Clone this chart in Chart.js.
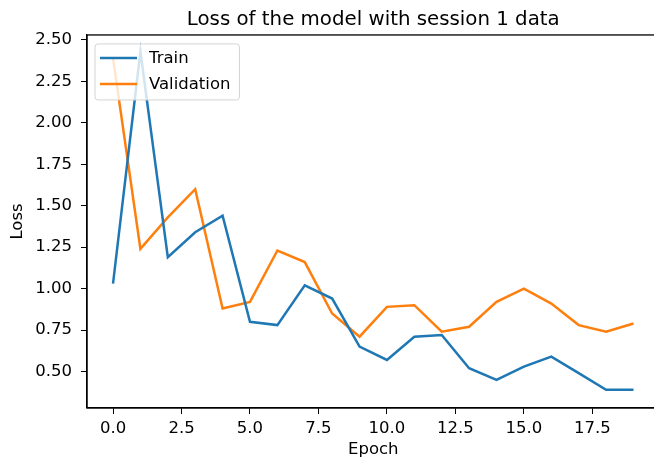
<!DOCTYPE html>
<html>
<head>
<meta charset="utf-8">
<script src="https://cdn.jsdelivr.net/npm/chart.js@4"></script>
<style>
  html, body { margin: 0; padding: 0; background: #fff; overflow: hidden; }
  canvas { display: block; }
</style>
</head>
<body>
<canvas id="chart" width="670" height="464"></canvas>
<script>
// данные
const epochs = [0, 1, 2, 3, 4, 5, 6, 7, 8, 9, 10, 11, 12, 13, 14, 15, 16, 17, 18, 19];
const trainLoss = [1.03, 2.43, 1.19, 1.34, 1.44, 0.80, 0.78, 1.02, 0.94, 0.65,
                   0.57, 0.71, 0.72, 0.52, 0.45, 0.53, 0.59, 0.49, 0.39, 0.39];
const valLoss = [2.39, 1.24, 1.43, 1.60, 0.88, 0.92, 1.23, 1.16, 0.85, 0.71,
                 0.89, 0.90, 0.74, 0.77, 0.92, 1.00, 0.91, 0.78, 0.74, 0.79];
const xTicks = [0, 2.5, 5, 7.5, 10, 12.5, 15, 17.5];
const yTicks = [0.5, 0.75, 1.0, 1.25, 1.5, 1.75, 2.0, 2.25, 2.5];

const FONT = 'DejaVu Sans';
const BLUE = '#1f77b4';
const ORANGE = '#ff7f0e';

// рамка вокруг области графика (верхняя и правая оси)
const frame = {
    id: 'frame',
    afterDraw(chart) {
        const { ctx, chartArea: ca } = chart;
        ctx.save();
        ctx.strokeStyle = '#000';
        ctx.lineWidth = 1.3;
        ctx.strokeRect(ca.left, ca.top, ca.right - ca.left, ca.bottom - ca.top);
        ctx.restore();
    }
};

// легенда внутри области графика, как в matplotlib (loc="upper left")
const insideLegend = {
    id: 'insideLegend',
    afterDatasetsDraw(chart) {
        const ctx = chart.ctx;
        const ca = chart.chartArea;
        ctx.save();
        ctx.font = `16.5px "${FONT}"`;
        const sets = chart.data.datasets;
        const maxW = Math.max(...sets.map(d => ctx.measureText(d.label).width));
        const x0 = ca.left + 8, y0 = ca.top + 9;
        const w = 54 + maxW + 9, h = 56;
        ctx.beginPath();
        ctx.roundRect(x0, y0, w, h, 3);
        ctx.fillStyle = 'rgba(255,255,255,0.8)';
        ctx.fill();
        ctx.strokeStyle = '#d4d4d4';
        ctx.lineWidth = 1;
        ctx.stroke();
        sets.forEach((d, i) => {
            const y = y0 + 14 + i * 26;
            ctx.beginPath();
            ctx.moveTo(x0 + 5, y);
            ctx.lineTo(x0 + 42, y);
            ctx.strokeStyle = d.borderColor;
            ctx.lineWidth = 2.5;
            ctx.stroke();
            ctx.fillStyle = '#000';
            ctx.textBaseline = 'middle';
            ctx.fillText(d.label, x0 + 54, y + 1);
        });
        ctx.restore();
    }
};

const toPoints = vals => vals.map((v, i) => ({ x: epochs[i], y: v }));

new Chart(document.getElementById('chart'), {
    type: 'line',
    data: {
        datasets: [
            { label: 'Train', data: toPoints(trainLoss), borderColor: BLUE, backgroundColor: BLUE,
              borderWidth: 2.5, pointRadius: 0, tension: 0, fill: false },
            { label: 'Validation', data: toPoints(valLoss), borderColor: ORANGE, backgroundColor: ORANGE,
              borderWidth: 2.5, pointRadius: 0, tension: 0, fill: false }
        ]
    },
    options: {
        responsive: false,
        animation: false,
        events: [],
        layout: { padding: { left: 0, right: 10.5, top: 0, bottom: 0 } },
        plugins: {
            legend: { display: false },
            tooltip: { enabled: false },
            title: {
                display: true,
                text: 'Loss of the model with session 1 data',
                fullSize: false,
                color: '#000',
                font: { family: FONT, size: 19.8, weight: 'normal' },
                padding: { top: 7.6, bottom: 3.6 }
            }
        },
        scales: {
            x: {
                type: 'linear',
                min: -0.95,
                max: 19.95,
                afterBuildTicks: s => { s.ticks = xTicks.map(v => ({ value: v })); },
                afterFit: s => { s.height = 56; },
                grid: { display: true, drawOnChartArea: false, drawTicks: true, tickLength: 6, color: '#000' },
                border: { display: true, color: '#000', width: 1.3 },
                ticks: {
                    color: '#000', padding: 5, maxRotation: 0,
                    font: { family: FONT, size: 16.5 },
                    callback: v => Number(v).toFixed(1)
                },
                title: { display: true, text: 'Epoch', color: '#000',
                         font: { family: FONT, size: 16.5 }, padding: { top: 0, bottom: 4.6 } }
            },
            y: {
                type: 'linear',
                min: 0.28,
                max: 2.53,
                afterBuildTicks: s => { s.ticks = yTicks.map(v => ({ value: v })); },
                afterFit: s => { s.width = 87; },
                grid: { display: true, drawOnChartArea: false, drawTicks: true, tickLength: 6, color: '#000' },
                border: { display: true, color: '#000', width: 1.3 },
                ticks: {
                    color: '#000', padding: 9,
                    font: { family: FONT, size: 16.5 },
                    callback: v => Number(v).toFixed(2)
                },
                title: { display: true, text: 'Loss', color: '#000',
                         font: { family: FONT, size: 16.5 }, padding: { top: 8, bottom: 0 } }
            }
        }
    },
    plugins: [insideLegend, frame]
});
</script>
</body>
</html>
